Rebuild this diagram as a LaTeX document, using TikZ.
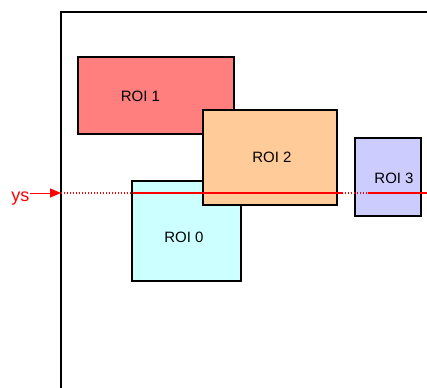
\documentclass[tikz,border=0pt]{standalone}
\usepackage{fontspec}
\setmainfont{Liberation Sans}
\usetikzlibrary{arrows.meta, positioning}

\definecolor{roired}{RGB}{255,127,127}
\definecolor{roiorange}{RGB}{255,204,153}
\definecolor{roicyan}{RGB}{204,255,255}
\definecolor{roiblue}{RGB}{204,204,255}

\tikzset{
  roibox/.style={draw=black, line width=1.4pt},
  scanline/.style={red, line width=1.6pt},
  scandots/.style={red, line width=1.2pt, dash pattern=on 1.3pt off 1.7pt},
  roilabel/.style={font=\fontsize{15}{18}\selectfont, inner sep=0pt}
}

\begin{document}
\begin{tikzpicture}[x=1pt, y=-1pt]
  \useasboundingbox (0,0) rectangle (427,387);
  \clip (0,0) rectangle (427,387);

  % Draw frame
  \draw[line width=1.5pt] (61,400) -- (61,12) -- (440,12);

  % Draw regions
  \begin{scope}
    \filldraw[roibox, fill=roired] (78,57) rectangle (234,134);
    \filldraw[roibox, fill=roicyan] (132,181) rectangle (241,281);
    \filldraw[roibox, fill=roiorange] (203,110) rectangle (337,205);
    \filldraw[roibox, fill=roiblue] (355,138) rectangle (421,216);
  \end{scope}

  \node[roilabel] (roi1) at (140.5,96) {ROI 1};
  \node[roilabel] (roi2) at (272,157.5) {ROI 2};
  \node[roilabel] (roi0) at (184,237.5) {ROI 0};
  \node[roilabel] (roi3) at (394,178.5) {ROI 3};

  % Scan line
  \node[roilabel, font=\fontsize{18}{21}\selectfont, red, anchor=base east] (ys) at (29.5,201.5) {ys};
  \coordinate (entry) at (61,193);
  \coordinate (ina) at (133,193);
  \coordinate (outa) at (342,193);
  \coordinate (inb) at (368,193);
  \coordinate (edge) at (440,193);

  \draw[red, line width=1pt, -{Triangle[length=11pt,width=9pt]}] (ys.east |- entry) -- (entry);
  \draw[scandots] (entry) -- (ina);
  \draw[scanline] (ina) -- (outa);
  \draw[scandots] (outa) -- (inb);
  \draw[scanline] (inb) -- (edge);

\end{tikzpicture}
\end{document}
